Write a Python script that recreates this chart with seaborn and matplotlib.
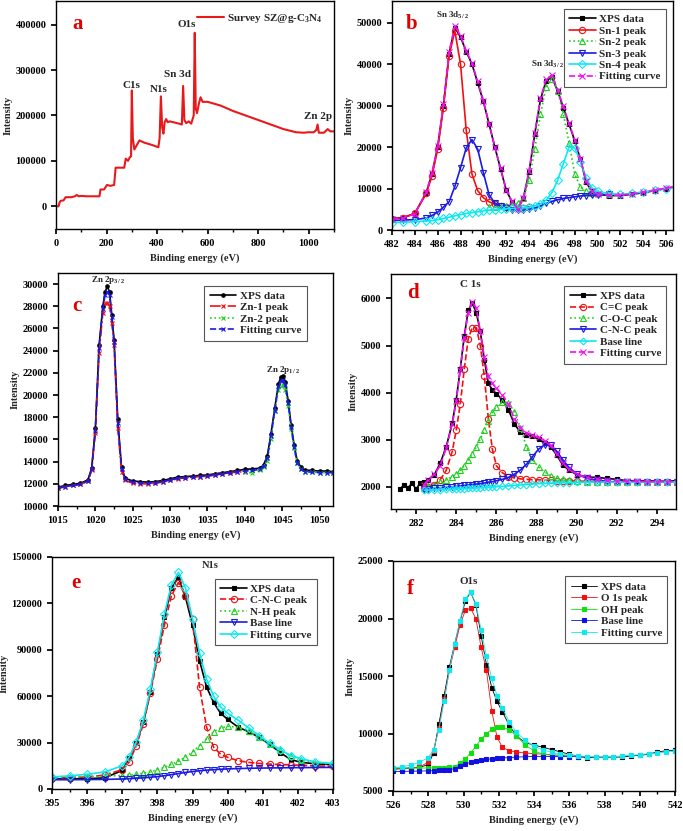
import numpy as np
import matplotlib
matplotlib.use("Agg")
import matplotlib.pyplot as plt
from matplotlib.ticker import AutoMinorLocator
import seaborn as sns

nan = np.nan

# ---------------- (a) survey ----------------
a_energy = [0, 10, 14, 18, 30, 38, 42, 60, 75, 82, 90, 100, 120, 150, 172, 176, 190, 196, 202,
            215, 230, 236, 250, 270, 276, 285, 292, 297, 300, 304, 310, 320, 330, 350, 380, 405,
            410, 415, 420, 425, 430, 436, 442, 450, 480, 498, 503, 508, 515, 525, 535, 545, 549,
            553, 558, 565, 572, 580, 600, 650, 700, 750, 800, 850, 900, 950, 980, 1000, 1020,
            1030, 1035, 1040, 1060, 1075, 1085, 1100]
a_counts = [0, 0, 8000, 12000, 13000, 20000, 20000, 20000, 22000, 25000, 22000, 23000, 22000,
            22000, 22000, 37000, 37000, 42000, 47000, 45000, 47000, 85000, 85000, 85000, 105000,
            100000, 108000, 110000, 255000, 150000, 125000, 135000, 145000, 140000, 135000,
            130000, 150000, 242000, 175000, 160000, 185000, 192000, 185000, 187000, 183000,
            180000, 265000, 190000, 183000, 187000, 182000, 200000, 382000, 215000, 205000,
            225000, 240000, 230000, 230000, 222000, 210000, 200000, 190000, 180000, 170000,
            163000, 162000, 163000, 163000, 168000, 180000, 162000, 162000, 170000, 165000, 165000]
a_peaks = ["C1s", "N1s", "Sn 3d", "O1s", "Zn 2p"]
a_peak_pos = [(297, 266000), (408, 258000), (480, 290000), (517, 400000), (1038, 198000)]

# ---------------- (b) Sn 3d ----------------
b_energy = [482, 483, 484, 485, 485.5, 486, 486.5, 487, 487.5, 488, 488.5, 489, 489.5, 490, 490.5,
            491, 491.5, 492, 492.5, 493, 493.5, 494, 494.5, 495, 495.5, 496, 496.5, 497, 497.5,
            498, 498.5, 499, 499.5, 500, 501, 502, 503, 504, 505, 506, 507]
b_data = [2700, 3000, 4000, 9000, 13500, 20000, 30000, 42500, 48800, 46500, 43000, 40000, 35500,
          31000, 25500, 20000, 14800, 9600, 6800, 5000, 7600, 14000, 23200, 31500, 36000, 36800,
          33500, 29500, 25500, 21500, 17000, 11500, 9300, 8600, 8300, 8300, 8600, 9000, 9500,
          10000, 10500]
b_sn1 = [2700, 3000, 4000, 8800, 13000, 19500, 29500, 42000, 48000, 40000, 24000, 13500, 9500,
         7800, 6800, 6200, 5800, 5500, 5300, 5200, 5300, 5500] + [nan] * 19
b_sn2 = [nan] * 14 + [5500, 5600, 5700, 5800, 6000, 6500, 7600, 12000, 19500, 28000, 34500, 36500,
                      33600, 28000, 21000, 13500, 10300, 9400, 9000, 8800, 8600, nan, nan, nan,
                      nan, nan, nan]
b_sn3 = [2300, 2400, 2500, 2900, 3500, 4300, 5500, 6800, 10500, 15000, 19800, 21800, 19500, 13800,
         8500, 6500, 5800, 5200, 4900, 4800, 4800, 5000, 5300, 5800, 6400, 6900, 7300, 7600,
         7800, 8000, 8200, 8300, 8400, 8500, 8600, nan, nan, nan, nan, nan, nan]
b_sn4 = [1800, 1900, 2000, 2200, 2300, 2500, 2800, 3100, 3400, 3700, 4000, 4200, 4400, 4600, 4800,
         4900, 5000, 5100, 5200, 5300, 5400, 5500, 5800, 6300, 7200, 9000, 12000, 16000, 20000,
         19800, 16500, 12500, 10200, 9300, 8800, 8600, 8800, 9200, 9600, 10000, 10400]
b_fit = [2600, 2900, 3900, 9200, 13800, 20300, 30300, 43000, 49200, 46800, 43200, 40200, 35800,
         31200, 25600, 20100, 14900, 9700, 6900, 5100, 7700, 14200, 23500, 31800, 36400, 37300,
         33800, 29800, 25700, 21700, 17200, 11700, 9400, 8700, 8400, 8400, 8700, 9100, 9600,
         10100, 10600]

# ---------------- (c) Zn 2p ----------------
c_energy = [1015, 1016, 1017, 1018, 1019, 1019.5, 1020, 1020.5, 1021, 1021.3, 1021.6, 1021.9,
            1022.2, 1022.5, 1023, 1023.5, 1024, 1025, 1026, 1027, 1028, 1029, 1030, 1031, 1032,
            1033, 1034, 1035, 1036, 1037, 1038, 1039, 1040, 1041, 1042, 1042.5, 1043, 1043.5,
            1044, 1044.5, 1044.8, 1045.1, 1045.4, 1045.8, 1046.2, 1046.6, 1047, 1047.5, 1048,
            1049, 1050, 1051, 1051.8]
c_data = [11700, 11850, 11950, 12050, 12350, 13400, 17000, 24500, 28000, 29300, 29800, 29300,
          27200, 25000, 17800, 13500, 12500, 12250, 12200, 12150, 12200, 12300, 12450, 12600,
          12650, 12700, 12750, 12800, 12900, 13000, 13100, 13200, 13300, 13350, 13400, 13700,
          14500, 16500, 18800, 21000, 21600, 21700, 21200, 19500, 17300, 15500, 14100, 13500,
          13250, 13200, 13150, 13150, 13100]
c_zn1 = [11600, 11750, 11850, 11950, 12250, 13200, 16600, 23800, 27400, 28300, 28300, 28000,
         26500, 24500, 17000, 13100, 12300, 12050, 12000, 12000, 12050, 12150, 12300, 12450,
         12550, 12600, 12650, 12700, 12800, 12900, 13000, 13050, 13100] + [nan] * 20
c_zn2 = [nan] * 32 + [13100, 12950, 13200, 13500, 14100, 16000, 18600, 20500, 20800, 20900,
                      20500, 19000, 16900, 15200, 13900, 13300, 13100, 13050, 13000, 13000, 13000]
c_fit = [11600, 11750, 11850, 11950, 12250, 13300, 16800, 24200, 27800, 29000, 29300, 29000,
         27000, 24800, 17500, 13300, 12400, 12150, 12100, 12050, 12100, 12200, 12350, 12500,
         12550, 12600, 12650, 12700, 12800, 12900, 13000, 13100, 13150, 13200, 13300, 13600,
         14300, 16300, 18600, 20800, 21300, 21400, 20900, 19300, 17100, 15300, 13900, 13300,
         13100, 13050, 13000, 13000, 13000]

# ---------------- (d) C 1s ----------------
d_energy = [281.2, 281.4, 281.6, 281.8, 282.0, 282.2, 282.4, 282.6, 282.9, 283.2, 283.5, 283.8,
            284.0, 284.2, 284.4, 284.6, 284.8, 285.0, 285.2, 285.4, 285.6, 285.8, 286.0, 286.3,
            286.6, 286.9, 287.2, 287.5, 287.8, 288.1, 288.4, 288.7, 289.0, 289.3, 289.6, 290.0,
            290.5, 291.0, 291.5, 292.0, 292.5, 293.0, 293.5, 294.0, 294.5, 295.0]
d_data = [1950, 2050, 1980, 2080, 1950, 2080, 2100, 2150, 2250, 2500, 2850, 3350, 3850, 4500,
          5200, 5750, 5900, 5700, 5300, 4700, 4200, 4060, 3980, 3850, 3640, 3330, 3160, 3110,
          3070, 3010, 2930, 2850, 2680, 2470, 2360, 2260, 2210, 2200, 2180, 2160, 2130, 2130,
          2130, 2120, 2120, 2130]
d_cc = [nan] * 6 + [1980, 2000, 2050, 2150, 2350, 2750, 3200, 3750, 4500, 5150, 5380, 5380, 5000,
                    4350, 3450, 2800, 2450, 2300, 2220, 2190, 2170, 2160, 2150, 2150, 2140, 2140,
                    2130, 2130, 2130, 2120, 2120, 2110, 2100, 2100, 2100, 2100, 2100, 2100, 2100,
                    2100]
d_coc = [nan] * 6 + [2000, 2020, 2050, 2100, 2150, 2220, 2280, 2350, 2450, 2560, 2700, 2850,
                     3020, 3200, 3400, 3580, 3700, 3800, 3780, 3600, 3250, 2850, 2580, 2420,
                     2320, 2240, 2190, 2160, 2140, 2120, 2110, 2100, 2100, 2100, 2100, 2100,
                     2100, 2100, 2100, 2100]
d_cnc = [nan] * 6 + [1950, 1960, 1970, 1980, 1990, 2000, 2010, 2020, 2030, 2040, 2050, 2060,
                     2070, 2080, 2100, 2110, 2130, 2160, 2200, 2270, 2360, 2480, 2640, 2800,
                     2890, 2880, 2760, 2580, 2420, 2280, 2180, 2140, 2120, 2100, 2100, 2100,
                     2100, 2100, 2100, 2100]
d_base = [nan] * 6 + [1930, 1930, 1935, 1940, 1945, 1950, 1955, 1960, 1965, 1970, 1975, 1980,
                      1985, 1990, 1995, 2000, 2005, 2010, 2020, 2030, 2040, 2050, 2060, 2070,
                      2075, 2080, 2085, 2090, 2090, 2095, 2100, 2100, 2100, 2100, 2100, 2100,
                      2100, 2100, 2100, 2100]
d_fit = [nan] * 6 + [2050, 2150, 2270, 2450, 2820, 3330, 3820, 4480, 5180, 5700, 5920, 5800,
                     5300, 4750, 4350, 4200, 4100, 3950, 3750, 3450, 3250, 3150, 3100, 3050,
                     2980, 2880, 2700, 2500, 2380, 2270, 2200, 2160, 2140, 2130, 2120, 2120,
                     2110, 2110, 2110, 2110]

# ---------------- (e) N 1s ----------------
e_energy = [395, 395.5, 396, 396.5, 397, 397.2, 397.4, 397.6, 397.8, 398.0, 398.2, 398.4, 398.6,
            398.8, 399.0, 399.2, 399.4, 399.6, 399.8, 400.0, 400.3, 400.6, 400.9, 401.2, 401.5,
            401.8, 402.1, 402.5, 403.0]
e_data = [6500, 6600, 6700, 7200, 12000, 20000, 30000, 43000, 63000, 87000, 111000, 130000,
          137000, 124000, 106000, 83000, 66000, 56000, 49000, 45000, 40000, 37000, 33400, 28800,
          23500, 19000, 17200, 16300, 15700]
e_cnc = [7000, 7300, 7800, 9000, 12500, 17500, 28000, 42000, 62000, 84000, 106000, 125000,
         133500, 125000, 110000, 66000, 40000, 27000, 22500, 20500, 18300, 17200, 16500, 16100,
         15800, 15600, 15300, 15000, 14600]
e_nh = [7500, 7700, 8000, 8300, 8700, 9000, 9500, 10200, 11000, 12500, 14000, 16000, 18000,
        20500, 24000, 28000, 32500, 37000, 39500, 40500, 40000, 37500, 33500, 29000, 25000,
        21500, 19000, 17000, 16000]
e_base = [6000, 6000, 6100, 6200, 6500, 6700, 6900, 7200, 7600, 8000, 8600, 9300, 10000, 10700,
          11300, 11800, 12200, 12500, 12800, 13000, 13200, 13400, 13500, 13600, 13700, 13800,
          13800, 13900, 14000]
e_fit = [7800, 8500, 9500, 11000, 15000, 20500, 30500, 44500, 64500, 88500, 113000, 132000,
         140000, 130000, 110000, 88000, 71000, 60000, 53000, 49000, 44500, 39500, 34500, 29500,
         25500, 21500, 19500, 17500, 16500]

# ---------------- (f) O 1s ----------------
f_energy = [526, 526.5, 527, 527.5, 528, 528.3, 528.6, 528.9, 529.2, 529.5, 529.8, 530.1, 530.4,
            530.7, 531.0, 531.3, 531.6, 531.9, 532.2, 532.6, 533.0, 533.5, 534.0, 534.5, 535.0,
            535.5, 536.0, 536.5, 537.0, 537.5, 538.0, 538.5, 539.0, 539.5, 540.0, 540.5, 541.0,
            541.5, 542.0]
f_data = [6900, 6950, 7000, 7050, 7300, 8300, 10800, 13300, 15800, 17800, 19700, 21500, 22300,
          21200, 18500, 16000, 14000, 12800, 11900, 10700, 9800, 9200, 9000, 8800, 8600, 8400,
          8200, 8000, 7900, 7950, 7950, 7950, 7950, 8050, 8100, 8200, 8400, 8500, 8550]
f_o1s = [6900, 6950, 7000, 7100, 7500, 8500, 10500, 13000, 15500, 17500, 19400, 20700, 20900,
         20000, 17500, 15500, 12000, 9700, 8800, 8500, 8400, 8300, 8250, 8200, 8150, 8100,
         8050] + [nan] * 12
f_oh = [7000, 7000, 7000, 7000, 7000, 7000, 7000, 7000, 7050, 7100, 7400, 7800, 8300, 8900,
        9500, 10000, 10350, 10550, 10550, 10300, 9800, 9000, 8500, 8200, 8100, 8050,
        8020] + [nan] * 12
f_base = [6700, 6700, 6720, 6730, 6750, 6770, 6800, 6820, 6850, 6950, 7150, 7350, 7500, 7600,
          7700, 7750, 7800, 7850, 7880, 7900, 7950, 7980, 8000, 8000, 8000, 8000, 8000, 8000,
          8000] + [nan] * 10
f_fit = [7000, 7100, 7250, 7500, 7900, 8600, 10300, 12800, 15500, 17800, 19800, 21700, 22300,
         21300, 19000, 16700, 14800, 13300, 12200, 11000, 10100, 9400, 8900, 8600, 8350, 8200,
         8100, 8050, 8000, 8000, 8000, 8000, 8050, 8100, 8150, 8250, 8300, 8400, 8450]

# ---------------- style ----------------
sns.set_theme(style="ticks")
plt.rcParams.update({
    "font.family": ["Liberation Serif", "DejaVu Serif"],
    "font.weight": "bold",
    "axes.labelweight": "bold",
    "axes.linewidth": 1.0,
    "axes.edgecolor": "black",
    "xtick.color": "black",
    "ytick.color": "black",
    "xtick.direction": "out",
    "ytick.direction": "out",
    "xtick.major.size": 3.5,
    "ytick.major.size": 3.5,
    "xtick.minor.size": 2,
    "xtick.labelsize": 7.5,
    "ytick.labelsize": 7.5,
    "axes.labelsize": 7.5,
    "mathtext.fontset": "custom",
    "mathtext.rm": "Liberation Serif:bold",
    "mathtext.bf": "Liberation Serif:bold",
    "mathtext.it": "Liberation Serif:bold",
    "mathtext.default": "bf",
})

fig = plt.figure(figsize=(6.83, 8.31), dpi=100)


def add_ax(left, top, right, bottom):
    # pixel box -> figure fraction
    W, H = 683.0, 831.0
    return fig.add_axes([left / W, 1 - bottom / H, (right - left) / W, (bottom - top) / H])


def curve(ax, x, y, color, label, marker=None, ls="-", mfc="none", ms=4, lw=1.2, mew=0.8):
    sns.lineplot(x=x, y=y, ax=ax, color=color, label=label, marker=marker, linestyle=ls,
                 markerfacecolor=mfc, markeredgecolor=color, markersize=ms, linewidth=lw,
                 markeredgewidth=mew, sort=False, legend=False)


def finish(ax, letter, lx, ly, xlim, ylim, xticks, yticks, leg_anchor, frame=True, fs=8):
    ax.set_xlim(*xlim)
    ax.set_ylim(*ylim)
    ax.set_xticks(xticks)
    ax.set_yticks(yticks)
    ax.xaxis.set_minor_locator(AutoMinorLocator(2))
    ax.set_xlabel("Binding energy (eV)", labelpad=4)
    ax.set_ylabel("Intensity", labelpad=2)
    ax.text(lx, ly, letter, transform=ax.transAxes, color="#e00000", fontsize=15,
            fontweight="bold", ha="center", va="center")
    leg = ax.legend(loc="upper right", bbox_to_anchor=leg_anchor, frameon=frame, fontsize=fs,
                    handlelength=2.4, handletextpad=0.3, labelspacing=0.15, borderpad=0.5,
                    fancybox=False, framealpha=1, edgecolor="#555555", numpoints=1)
    leg.get_frame().set_linewidth(0.8)
    for t in leg.get_texts():
        t.set_fontweight("bold")


# (a)
ax = add_ax(56, 1, 334, 229)
curve(ax, a_energy, a_counts, "#e8191b", "Survey SZ@g-C$_3$N$_4$", lw=1.5)
for name, (px, py) in zip(a_peaks, a_peak_pos):
    ax.text(px, py, name, ha="center", va="center", fontsize=8, fontweight="bold")
finish(ax, "a", 0.076, 0.90, (0, 1100), (-50000, 452000), range(0, 1001, 200),
       range(0, 400001, 100000), (1.0, 1.0), frame=False, fs=8)

# (b)
ax = add_ax(392, 1, 673, 230)
curve(ax, b_energy, b_data, "black", "XPS data", marker="s", mfc="black", ms=3.5)
curve(ax, b_energy, b_sn1, "#f01010", "Sn-1 peak", marker="o", ms=4.5)
curve(ax, b_energy, b_sn2, "#20d020", "Sn-2 peak", marker="^", ls=":", ms=4.5)
curve(ax, b_energy, b_sn3, "#1a1ae0", "Sn-3 peak", marker="v", ms=4.5)
curve(ax, b_energy, b_sn4, "#10e8f0", "Sn-4 peak", marker="D", ms=4)
curve(ax, b_energy, b_fit, "#f010f0", "Fitting curve", marker="x", ls="--", ms=5)
ax.text(487.3, 51800, r"Sn 3d$_{5\,/\,2}$", ha="center", va="center", fontsize=6.5)
ax.text(495.6, 39800, r"Sn 3d$_{3\,/\,2}$", ha="center", va="center", fontsize=6.5)
finish(ax, "b", 0.07, 0.90, (482, 506.6), (0, 55200), range(482, 507, 2),
       range(0, 50001, 10000), (0.995, 0.99))

# (c)
ax = add_ax(58, 273, 333, 506)
curve(ax, c_energy, c_data, "black", "XPS data", marker="o", mfc="black", ms=2.5)
curve(ax, c_energy, c_zn1, "#f01010", "Zn-1 peak", marker="x", ls="-.", ms=3)
curve(ax, c_energy, c_zn2, "#20d020", "Zn-2 peak", marker="x", ls=":", ms=3)
curve(ax, c_energy, c_fit, "#1a1ae0", "Fitting curve", marker="x", ls="--", ms=3)
ax.text(1021.7, 30350, r"Zn 2p$_{3\,/\,2}$", ha="center", va="center", fontsize=6.5)
ax.text(1045.1, 22300, r"Zn 2p$_{1\,/\,2}$", ha="center", va="center", fontsize=6.5)
finish(ax, "c", 0.07, 0.86, (1015, 1051.8), (10000, 31000), range(1015, 1051, 5),
       range(10000, 30001, 2000), (0.924, 0.97))

# (d)
ax = add_ax(391, 274, 676, 509)
curve(ax, d_energy, d_data, "black", "XPS data", marker="s", mfc="black", ms=3.5)
curve(ax, d_energy, d_cc, "#f01010", "C=C peak", marker="o", ls="--", ms=4.5)
curve(ax, d_energy, d_coc, "#20d020", "C-O-C peak", marker="^", ls=":", ms=4.5)
curve(ax, d_energy, d_cnc, "#1a1ae0", "C-N-C peak", marker="v", ms=4.5)
curve(ax, d_energy, d_base, "#10e8f0", "Base line", marker="D", ms=3.5)
curve(ax, d_energy, d_fit, "#f010f0", "Fitting curve", marker="x", ls="--", ms=5)
ax.text(284.7, 6300, "C 1s", ha="center", va="center", fontsize=8)
finish(ax, "d", 0.077, 0.92, (280.75, 294.95), (1530, 6520), range(282, 295, 2),
       range(2000, 6001, 1000), (0.986, 0.974))

# (e)
ax = add_ax(52, 557, 333, 789)
curve(ax, e_energy, e_data, "black", "XPS data", marker="s", mfc="black", ms=3.5)
curve(ax, e_energy, e_cnc, "#f01010", "C-N-C peak", marker="o", ls="--", ms=4.5)
curve(ax, e_energy, e_nh, "#20d020", "N-H peak", marker="^", ls=":", ms=4.5)
curve(ax, e_energy, e_base, "#1a1ae0", "Base line", marker="v", ms=4.5)
curve(ax, e_energy, e_fit, "#10e8f0", "Fitting curve", marker="D", ms=4)
ax.text(399.5, 144500, "N1s", ha="center", va="center", fontsize=7.5)
finish(ax, "e", 0.085, 0.89, (395, 403), (0, 150000), range(395, 404, 1),
       range(0, 150001, 30000), (0.964, 0.931))

# (f)
ax = add_ax(393, 561, 675, 791)
curve(ax, f_energy, f_data, "black", "XPS data", marker="s", mfc="black", ms=3.5, lw=0.6)
curve(ax, f_energy, f_o1s, "#f01010", "O 1s peak", marker="s", mfc="#f01010", ms=3.5, lw=0.6)
curve(ax, f_energy, f_oh, "#10e010", "OH peak", marker="s", mfc="#10e010", ms=3.5, lw=0.6)
curve(ax, f_energy, f_base, "#1010e0", "Base line", marker="s", mfc="#1010e0", ms=3.5, lw=0.6)
curve(ax, f_energy, f_fit, "#10e8f0", "Fitting curve", marker="s", mfc="#10e8f0", ms=3.5,
      lw=0.6)
ax.text(530.3, 23200, "O1s", ha="center", va="center", fontsize=8)
finish(ax, "f", 0.06, 0.88, (526, 542), (5000, 25000), range(526, 543, 2),
       range(5000, 25001, 5000), (0.993, 0.957))

fig.savefig("out.png", dpi=100)
